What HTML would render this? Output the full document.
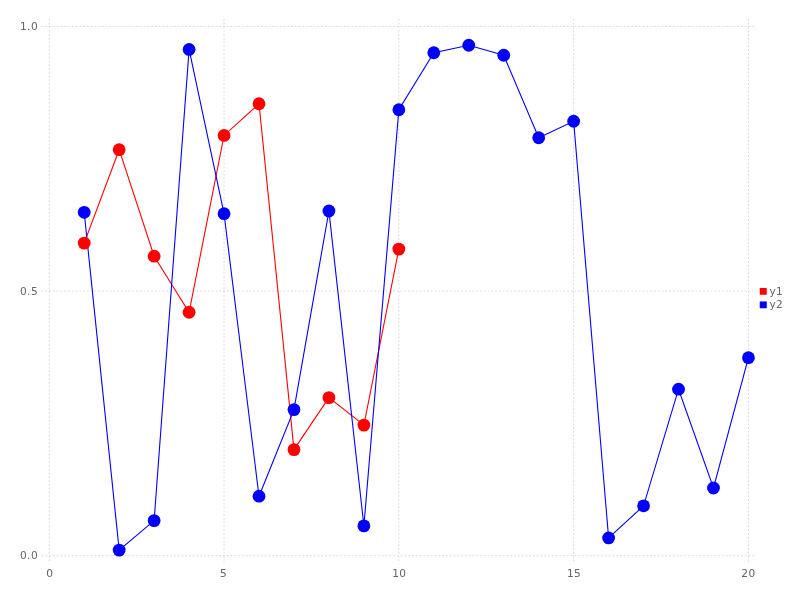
<!DOCTYPE html>
<html><head><meta charset="utf-8"><title>plot</title>
<style>
html,body{margin:0;padding:0;background:#fff;}
svg{display:block;}
text{font-family:"DejaVu Sans","Liberation Sans",sans-serif;font-size:10.6px;fill:#6c606b;}
.g{stroke:#d0d0e0;stroke-width:0.76;stroke-dasharray:1.89,1.89;fill:none;}
</style></head><body>
<svg width="800" height="600" viewBox="0 0 800 600">
<rect width="800" height="600" fill="#fff"/>
<line class="g" x1="49.25" y1="18.9" x2="49.25" y2="563.7"/>
<line class="g" x1="224.05" y1="18.9" x2="224.05" y2="563.7"/>
<line class="g" x1="398.85" y1="18.9" x2="398.85" y2="563.7"/>
<line class="g" x1="573.65" y1="18.9" x2="573.65" y2="563.7"/>
<line class="g" x1="748.45" y1="18.9" x2="748.45" y2="563.7"/>
<line class="g" x1="41.55" y1="26.40" x2="756" y2="26.40"/>
<line class="g" x1="41.55" y1="291.05" x2="756" y2="291.05"/>
<line class="g" x1="41.55" y1="555.70" x2="756" y2="555.70"/>
<text x="49.50" y="577" text-anchor="middle">0</text>
<text x="223.40" y="577" text-anchor="middle">5</text>
<text x="392.20 399.25" y="577">10</text>
<text x="567.00 574.05" y="577">15</text>
<text x="741.35 748.40" y="577">20</text>
<text x="20.1 26.9 31.0" y="29.80">1.0</text>
<text x="20.1 26.9 31.0" y="294.55">0.5</text>
<text x="20.1 26.9 31.0" y="559.30">0.0</text>
<polyline points="84.21,243.10 119.17,149.70 154.13,256.20 189.09,312.25 224.05,135.45 259.01,103.75 293.97,449.60 328.93,397.60 363.89,425.10 398.85,249.10" fill="none" stroke="#ff0000" stroke-width="1.1"/>
<polyline points="84.21,212.30 119.17,550.10 154.13,520.60 189.09,49.45 224.05,213.70 259.01,496.20 293.97,409.60 328.93,211.00 363.89,525.90 398.85,109.75 433.81,52.75 468.77,45.25 503.73,55.25 538.69,137.75 573.65,121.25 608.61,537.95 643.57,505.80 678.53,389.20 713.49,488.00 748.45,357.70" fill="none" stroke="#0000ff" stroke-width="1.1"/>
<circle cx="84.21" cy="243.10" r="6.4" fill="#ff0000"/>
<circle cx="119.17" cy="149.70" r="6.4" fill="#ff0000"/>
<circle cx="154.13" cy="256.20" r="6.4" fill="#ff0000"/>
<circle cx="189.09" cy="312.25" r="6.4" fill="#ff0000"/>
<circle cx="224.05" cy="135.45" r="6.4" fill="#ff0000"/>
<circle cx="259.01" cy="103.75" r="6.4" fill="#ff0000"/>
<circle cx="293.97" cy="449.60" r="6.4" fill="#ff0000"/>
<circle cx="328.93" cy="397.60" r="6.4" fill="#ff0000"/>
<circle cx="363.89" cy="425.10" r="6.4" fill="#ff0000"/>
<circle cx="398.85" cy="249.10" r="6.4" fill="#ff0000"/>
<circle cx="84.21" cy="212.30" r="6.4" fill="#0000ff"/>
<circle cx="119.17" cy="550.10" r="6.4" fill="#0000ff"/>
<circle cx="154.13" cy="520.60" r="6.4" fill="#0000ff"/>
<circle cx="189.09" cy="49.45" r="6.4" fill="#0000ff"/>
<circle cx="224.05" cy="213.70" r="6.4" fill="#0000ff"/>
<circle cx="259.01" cy="496.20" r="6.4" fill="#0000ff"/>
<circle cx="293.97" cy="409.60" r="6.4" fill="#0000ff"/>
<circle cx="328.93" cy="211.00" r="6.4" fill="#0000ff"/>
<circle cx="363.89" cy="525.90" r="6.4" fill="#0000ff"/>
<circle cx="398.85" cy="109.75" r="6.4" fill="#0000ff"/>
<circle cx="433.81" cy="52.75" r="6.4" fill="#0000ff"/>
<circle cx="468.77" cy="45.25" r="6.4" fill="#0000ff"/>
<circle cx="503.73" cy="55.25" r="6.4" fill="#0000ff"/>
<circle cx="538.69" cy="137.75" r="6.4" fill="#0000ff"/>
<circle cx="573.65" cy="121.25" r="6.4" fill="#0000ff"/>
<circle cx="608.61" cy="537.95" r="6.4" fill="#0000ff"/>
<circle cx="643.57" cy="505.80" r="6.4" fill="#0000ff"/>
<circle cx="678.53" cy="389.20" r="6.4" fill="#0000ff"/>
<circle cx="713.49" cy="488.00" r="6.4" fill="#0000ff"/>
<circle cx="748.45" cy="357.70" r="6.4" fill="#0000ff"/>
<rect x="759.75" y="287.95" width="7" height="6.8" fill="#ff0000"/>
<rect x="759.75" y="301.45" width="7" height="6.8" fill="#0000ff"/>
<text x="769.5 775.9" y="294.8">y1</text>
<text x="769.5 775.9" y="308.1">y2</text>
</svg></body></html>
